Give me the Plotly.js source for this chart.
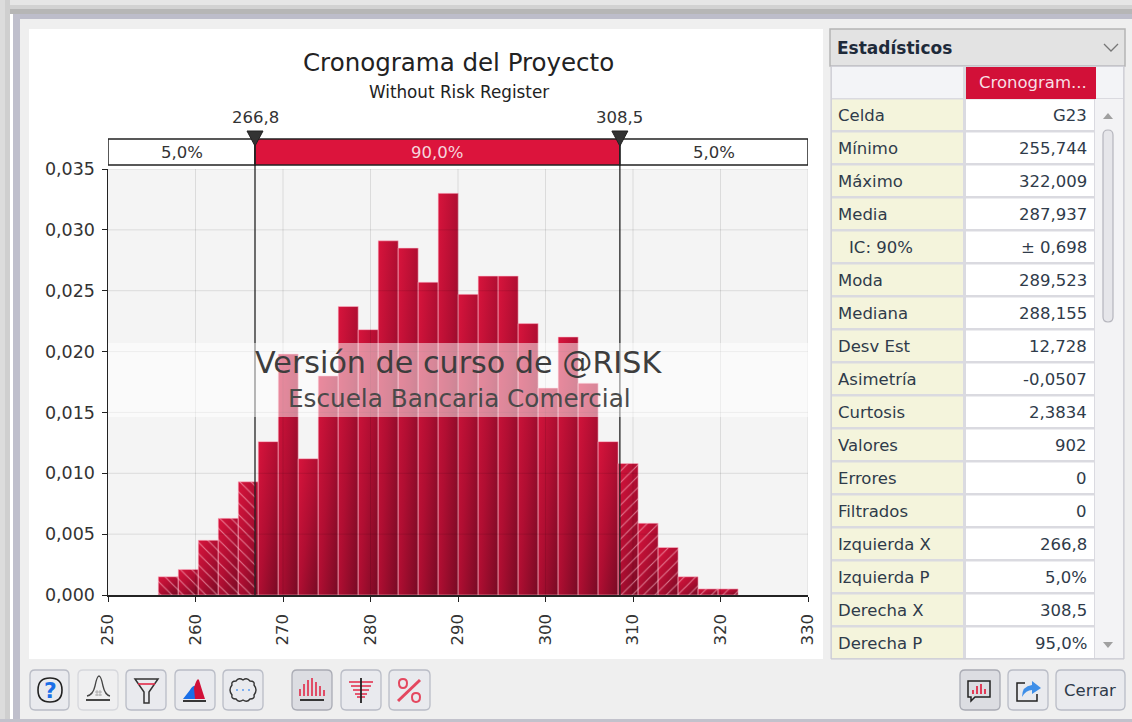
<!DOCTYPE html>
<html><head><meta charset="utf-8">
<script src="https://cdn.plot.ly/plotly-3.0.1.min.js"></script>
<style>html,body{margin:0;padding:0;background:#efefef;overflow:hidden}#c{width:1132px;height:722px}</style>
</head><body><div id="c"></div>
<svg width="0" height="0" style="position:absolute"><defs>
<linearGradient id="barGrad" x1="0" y1="0" x2="1" y2="1">
<stop offset="0" stop-color="#d8143c"/><stop offset="0.5" stop-color="#b00e32"/><stop offset="1" stop-color="#780a24"/>
</linearGradient></defs></svg>
<script>
const binStarts=[255.744,258.029,260.314,262.599,264.884,267.169,269.454,271.739,274.024,276.309,278.594,280.879,283.164,285.449,287.734,290.019,292.304,294.589,296.874,299.159,301.444,303.729,306.014,308.299,310.584,312.869,315.154,317.439,319.724];
const binWidths=[2.285,2.285,2.285,2.285,2.285,2.285,2.285,2.285,2.285,2.285,2.285,2.285,2.285,2.285,2.285,2.285,2.285,2.285,2.285,2.285,2.285,2.285,2.285,2.285,2.285,2.285,2.285,2.285,2.285];
const density=[0.0015,0.0021,0.0045,0.0063,0.0093,0.0126,0.0198,0.0112,0.0180,0.0237,0.0218,0.0291,0.0285,0.0257,0.0330,0.0247,0.0262,0.0262,0.0223,0.0170,0.0212,0.0174,0.0126,0.0108,0.0059,0.0039,0.0015,0.0005,0.0005];
const leftTailStarts=[255.744,258.029,260.314,262.599,264.884];
const leftTailWidths=[2.285,2.285,2.285,2.285,1.916];
const leftTailValues=[0.0015,0.0021,0.0045,0.0063,0.0093];
const rightTailStarts=[308.5,310.584,312.869,315.154,317.439,319.724];
const rightTailWidths=[2.084,2.285,2.285,2.285,2.285,2.285];
const rightTailValues=[0.0108,0.0059,0.0039,0.0015,0.0005,0.0005];
const delimiters=[266.8,308.5];
const delimiterLabels=['266,8','308,5'];
const regionLabels=['5,0%','90,0%','5,0%'];
const xTicks=[250,260,270,280,290,300,310,320,330];
const yTicks=[0,0.005,0.01,0.015,0.02,0.025,0.03,0.035];
const statLabels=['Celda','Mínimo','Máximo','Media','  IC: 90%','Moda','Mediana','Desv Est','Asimetría','Curtosis','Valores','Errores','Filtrados','Izquierda X','Izquierda P','Derecha X','Derecha P'];
const statValues=['G23','255,744','322,009','287,937','± 0,698','289,523','288,155','12,728','-0,0507','2,3834','902','0','0','266,8','5,0%','308,5','95,0%'];

const F='Tahoma, "DejaVu Sans", sans-serif', TXT='#333';
const X=p=>(p-108)/700, Y=p=>(595-p)/426;
const toPaper=s=>{let i=0;return s.replace(/-?\d+(\.\d+)?/g,m=>{const v=+m;return (i++%2===0?X(v):Y(v)).toFixed(5);});};
const shapes=[];
const rect=(x0,y0,x1,y1,fill,line,w,layer)=>shapes.push({type:'rect',xref:'paper',yref:'paper',x0:X(x0),x1:X(x1),y0:Y(y0),y1:Y(y1),fillcolor:fill,line:{color:line||'rgba(0,0,0,0)',width:line?(w||1):0},layer:layer||'below'});
const path=(d,fill,line,w,layer)=>shapes.push({type:'path',xref:'paper',yref:'paper',path:toPaper(d),fillcolor:fill||'rgba(0,0,0,0)',line:{color:line||'rgba(0,0,0,0)',width:line?(w||1):0},layer:layer||'below'});
const rr=(a,b,c,d,r)=>`M ${a+r} ${b} L ${c-r} ${b} Q ${c} ${b} ${c} ${b+r} L ${c} ${d-r} Q ${c} ${d} ${c-r} ${d} L ${a+r} ${d} Q ${a} ${d} ${a} ${d-r} L ${a} ${b+r} Q ${a} ${b} ${a+r} ${b} Z`;

// window frame
rect(0,0,1132,5,'#e6e6e6'); rect(0,5,1132,9,'#d2d2d2'); rect(0,9,1132,14,'#b6b6b6'); rect(0,14,1132,19,'#bdbdca');
rect(0,0,5,722,'#dcdcdc'); rect(5,0,10,722,'#cfcfcf'); rect(10,14,13,722,'#ffffff'); rect(13,14,20,722,'#bfbfcc');
rect(0,719,1132,722,'#c2c2cc');
rect(29,29,823,659,'#ffffff');
rect(108,169,808,595,'#f4f4f4');
// stats panel
rect(830,29,1125,66,'#e3e3e3','#b5b5b5',1.5);
path('M 1104 44 L 1111 51 L 1118 44',null,'#777',1.3);
rect(831,66,1124,659,'#dadae0','#c8c8d0',1);
rect(832,67,963,98,'#f3f4f7');
rect(1096,67,1123,98,'#f3f4f7');
rect(966,67,1096,99,'#d21038');
statLabels.forEach((s,i)=>{const y=99.5+33*i;
  rect(832,y,963,y+30.5,'#f4f4dc');
  rect(966,y,1094,y+30.5,'#ffffff');
});
rect(1095,99,1123,658,'#f3f3f5');
path('M 1103 119 L 1113 119 L 1108 113 Z','#a0a0a0');
path('M 1103 642 L 1113 642 L 1108 648 Z','#a0a0a0');
path(rr(1103,130,1113,322,5),'#e6e6ea','#b5b5bd',1.2);
// toolbar buttons
const btn=(a,c,fill,line)=>path(rr(a,670,c,710,5),fill||'#e9eaee',line||'#b9bcc6',1.3);
btn(30,69);btn(78,118,'#efeff0','#d6d7dc');btn(126,166);btn(175,215);btn(223,263);
btn(292,332,'#dcdde2','#a9abb4');btn(341,381);btn(389,430);
btn(960,1000,'#dcdde2','#a9abb4');btn(1008,1048);btn(1056,1125);
// help
path('M 38 690 Q 38 678 50 678 Q 62 678 62 690 Q 62 702 50 702 Q 38 702 38 690 Z',null,'#222',1.6);
// bell
path('M 87 696 Q 93 695 95 686 Q 97 676 99 676 Q 101 676 103 686 Q 105 695 110 696',null,'#444',1.3);
path('M 86 700 L 110 700',null,'#333',1.8);
path('M 97 690 L 97 696 M 100 690 L 100 696 M 95 692 L 102 692 M 95 695 L 102 695',null,'#999',0.7);
// funnel
path('M 135 679 L 158 679 L 149 692 L 149 703 L 144 703 L 144 692 Z',null,'#333',1.5);
path('M 138 684 L 155 684',null,'#e22a48',1.6);
// blue/red humps
path('M 183 699 L 190 690 Q 193 685 196 686 L 200 699 Z','#1a6fe8');
path('M 195 699 L 194 688 Q 197 677 199 680 Q 202 690 205 699 Z','#d21038');
path('M 183 701 L 206 701',null,'#222',1.8);
// gear
path('M 236 681 Q 239 677 243 680 Q 247 677 250 681 Q 255 681 254 685 Q 258 690 254 695 Q 255 699 250 699 Q 247 703 243 700 Q 239 703 236 699 Q 231 699 232 695 Q 228 690 232 685 Q 231 681 236 681 Z',null,'#333',1.4);
path('M 236 690 L 238 690 M 242 690 L 244 690 M 248 690 L 250 690',null,'#7fb0f0',1.8);
// histogram icon
path('M 300 696 L 300 689 M 304 696 L 304 684 M 308 696 L 308 680 M 312 696 L 312 678 M 316 696 L 316 682 M 320 696 L 320 686 M 324 696 L 324 690',null,'#e22a48',1.6);
path('M 300 700 L 324 700',null,'#222',1.8);
// inverted
path('M 349 682 L 373 682 M 351 686 L 371 686 M 353 690 L 369 690 M 355 694 L 367 694 M 357 697 L 365 697',null,'#e22a48',1.5);
path('M 361 678 L 361 703',null,'#222',1.8);
// percent
path('M 398 701 L 420 680',null,'#e4475f',3);
path('M 399 683 Q 399 679 403 679 Q 407 679 407 683 Q 407 688 403 688 Q 399 688 399 683 Z',null,'#e4475f',2);
path('M 412 697 Q 412 693 416 693 Q 420 693 420 697 Q 420 702 416 702 Q 412 702 412 697 Z',null,'#e4475f',2);
// comment icon
path('M 968 681 L 990 681 L 990 697 L 975 697 L 971 701 L 971 697 L 968 697 Z',null,'#222',1.5);
path('M 973 694 L 973 690 M 977 694 L 977 686 M 981 694 L 981 684 M 985 694 L 985 689',null,'#e22a48',1.8);
// share icon
path('M 1025 683 L 1017 683 L 1017 701 L 1037 701 L 1037 694',null,'#222',1.5);
path('M 1022 697 Q 1022 686 1032 685 L 1032 681 L 1041 688 L 1032 694 L 1032 690 Q 1026 690 1022 697 Z','#3f8fe8');

// plot-space shapes
rect(108,139,808,165,'#ffffff');
const strip=(a,b,fill)=>shapes.push({type:'rect',xref:'x',yref:'paper',x0:a,x1:b,y0:Y(165),y1:Y(139),fillcolor:fill,line:{color:'#222',width:1.5},layer:'above'});
strip(250,delimiters[0],'#ffffff');strip(delimiters[0],delimiters[1],'#dc143c');strip(delimiters[1],330,'#ffffff');
xTicks.slice(1).forEach(v=>shapes.push({type:'line',xref:'x',yref:'y',x0:v,x1:v,y0:0,y1:0.035,line:{color:'rgba(0,0,0,0.10)',width:1},layer:'above'}));
yTicks.slice(1).forEach(v=>shapes.push({type:'line',xref:'x',yref:'y',x0:250,x1:330,y0:v,y1:v,line:{color:'rgba(0,0,0,0.10)',width:1},layer:'above'}));
delimiters.forEach(v=>shapes.push({type:'line',xref:'x',yref:'paper',x0:v,x1:v,y0:0,y1:Y(139),line:{color:'#222',width:1.3},layer:'above'}));
delimiters.forEach(v=>shapes.push({type:'path',xref:'x',yref:'paper',xsizemode:'pixel',ysizemode:'pixel',xanchor:v,yanchor:Y(139),path:'M -8 8 L 8 8 L 0 -7 Z',fillcolor:'#333',line:{color:'#222',width:1},layer:'above'}));
rect(108,343,808,417,'rgba(255,255,255,0.5)',null,0,'above');

// text
const notes=[];
const T=(x,y,text,size,color,anchor,extra)=>notes.push(Object.assign({xref:'paper',yref:'paper',x:X(x),y:Y(y),text,showarrow:false,xanchor:anchor||'center',yanchor:'middle',font:{family:F,size,color:color||TXT},borderpad:0},extra||{}));
T(458,62,'Cronograma del Proyecto',24.5,'#222');
T(459,92,'Without Risk Register',16.8,'#222');
T(458,362,'Versión de curso de @RISK',30.2,'#3d3d3d');
T(459,398,'Escuela Bancaria Comercial',24.7,'#4a4a4a');
delimiterLabels.forEach((s,i)=>notes.push({xref:'x',yref:'paper',x:delimiters[i],y:Y(118),text:s,showarrow:false,yanchor:'middle',font:{family:F,size:16.5,color:TXT}}));
[[(250+delimiters[0])/2,'#333'],[(delimiters[0]+delimiters[1])/2,'#f6d5dc'],[(delimiters[1]+330)/2,'#333']].forEach((r,i)=>notes.push({xref:'x',yref:'paper',x:r[0],y:Y(152),text:regionLabels[i],showarrow:false,yanchor:'middle',font:{family:F,size:16.5,color:r[1]}}));
T(836,48,'<b>Estadísticos</b>',17,'#1e2a3a','left');
T(1088,83,'Cronogram...',16.5,'#f8dfe4','right');
statLabels.forEach((s,i)=>{const y=115.5+33*i;
  T(s.startsWith(' ')?848:837,y,s.trim(),16.5,'#2f3b4a','left');
  T(1088,y,statValues[i],16.5,'#2f3b4a','right');
});
T(50,690,'<b>?</b>',22,'#1a6fe8');
T(1090,690,'Cerrar',16.5,'#2f3b4a');

const hatch=shape=>({color:'rgba(0,0,0,0)',line:{width:0},pattern:{shape,fgcolor:'rgba(255,190,205,0.6)',bgcolor:'rgba(0,0,0,0)',size:8,solidity:0.14}});
const traces=[
 {type:'bar',x:binStarts,y:density,width:binWidths,offset:0,marker:{color:'#b00e32',line:{color:'rgba(255,190,205,0.55)',width:1}},hoverinfo:'x+y',showlegend:false},
 {type:'bar',x:leftTailStarts,y:leftTailValues,width:leftTailWidths,offset:0,marker:hatch('\\'),showlegend:false,hoverinfo:'skip'},
 {type:'bar',x:rightTailStarts,y:rightTailValues,width:rightTailWidths,offset:0,marker:hatch('/'),showlegend:false,hoverinfo:'skip'}
];
const axisFont={family:F,size:17.5,color:TXT};
const layout={width:1132,height:722,autosize:false,margin:{l:108,r:324,t:169,b:127,pad:0},
 paper_bgcolor:'#efefef',plot_bgcolor:'rgba(0,0,0,0)',barmode:'overlay',bargap:0,separators:',.',showlegend:false,
 font:{family:F,color:TXT,size:16.5},
 xaxis:{range:[250,330],tickvals:xTicks,ticktext:xTicks.map(String),tickangle:-90,ticks:'outside',ticklen:5,tickcolor:'#222',showline:true,linecolor:'#222',linewidth:1.5,showgrid:false,zeroline:false,tickfont:{family:F,size:16.5,color:TXT},ticklabelstandoff:6},
 yaxis:{range:[0,0.035],tickvals:yTicks,tickformat:'.3f',ticks:'outside',ticklen:5,tickcolor:'#222',showline:true,linecolor:'#222',linewidth:1.5,showgrid:false,zeroline:false,tickfont:axisFont,ticklabelstandoff:3},
 shapes,annotations:notes};
Plotly.newPlot('c',traces,layout,{displayModeBar:false,staticPlot:true}).then(()=>{
 document.querySelectorAll('.barlayer .trace:first-child .point path').forEach(p=>{p.style.fill='url(#barGrad)';});
});
</script></body></html>
